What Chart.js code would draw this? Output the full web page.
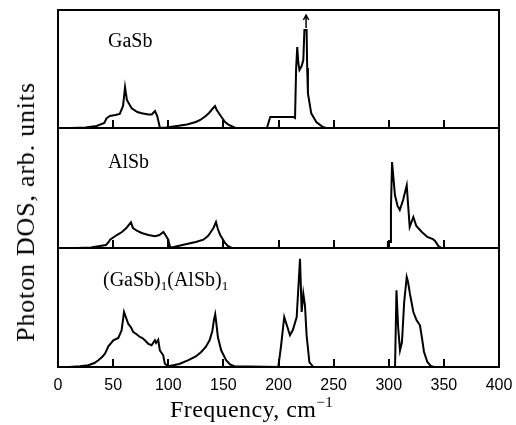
<!DOCTYPE html>
<html>
<head>
<meta charset="utf-8">
<script src="https://cdn.jsdelivr.net/npm/chart.js@4/dist/chart.umd.min.js"></script>
<style>
  html, body { margin:0; padding:0; background:#fff; }
  #wrap { position:relative; width:516px; height:425px; overflow:hidden; font-family:"Liberation Serif","Times New Roman",serif; color:#000; }
  canvas { position:absolute; left:0; }
  .lbl { position:absolute; font-size:20px; line-height:20px; white-space:nowrap; }
  .lbl sub { font-size:13px; vertical-align:-4px; line-height:0; }
  #ytitle { position:absolute; left:26px; top:212px; font-size:26px; line-height:26px; letter-spacing:0.8px; white-space:nowrap; transform:translate(-50%,-50%) rotate(-90deg); }
  #xtitle { position:absolute; left:170px; top:397px; font-size:24px; line-height:24px; letter-spacing:0.4px; white-space:nowrap; }
  #xtitle sup { font-size:15px; vertical-align:10px; line-height:0; }
</style>
</head>
<body>
<div id="wrap">
  <canvas id="c1" width="516" height="130" style="top:0"></canvas>
  <canvas id="c2" width="516" height="124" style="top:126px"></canvas>
  <canvas id="c3" width="516" height="179" style="top:246px"></canvas>
  <div class="lbl" style="left:108px;top:30px">GaSb</div>
  <div class="lbl" style="left:108px;top:151px">AlSb</div>
  <div class="lbl" style="left:103px;top:269px">(GaSb)<sub>1</sub>(AlSb)<sub>1</sub></div>
  <div id="ytitle">Photon DOS, arb. units</div>
  <div id="xtitle">Frequency, cm<sup>&minus;1</sup></div>
</div>
<script>
// x-axis settings (cm^-1)
const xMin = 0, xMax = 400, xStep = 50;
const tickValues = [50, 100, 150, 200, 250, 300, 350];

// GaSb phonon DOS (frequency, relative height)
const gasbFreq = [0,12,25,35,42,44,47,52,56,59,60.8,62.5,66.8,72,76,82,85,88,90,92.5,98,108,117,125,129,134,137,140,142.4,144,147,151.5,155,160.5,189.5,192.5,213.4,215,216,217,218,219,221,222.5,223.5,225.5,226,226.7,229.7,234.3,240.3,243,400];
const gasbDos  = [0,0,0.5,2,5,9.7,12,13,14,22,40.7,28,19.7,16,14.7,13.5,13.5,17,12,0,0.5,2,3.5,6,8,12,15,19,22,18,13,6,3,0.3,0,11,11,10,60,81,65,58,62,68,98,98,60,34.7,14.7,6,1,0,0];
// arrow marking the off-scale GaSb peak
const arrowFreq = [225,225,null,222.6,225,227.4];
const arrowDos  = [100,113,null,108,113,108];

// AlSb phonon DOS
const alsbFreq = [0,17,30,43.5,46,47.2,53,58,62,66.2,68,72,75.9,82,88,92,95.6,98,100,101.7,105,116.8,125,131.9,136,138,141,143.3,145,147,151.5,154,157.5,299,299.2,301.5,302,303,305.6,308,310,313,316.3,319,322.3,325,330,335,340,342,345,348,400];
const alsbDos  = [0,0,0.5,3,6,8.3,12.7,16,20,25.7,20,17,15,13,11.7,13,16,12,8.3,0.5,1,4,6,8.3,12,15,20,26,19,13.3,5,2,0,0,6,6,40,86,53,42,38,48,62.7,21,31,22,16,11,9,7,2,0,0];

// (GaSb)1(AlSb)1 superlattice phonon DOS
const slFreq = [0,10,20,27.5,33,36.6,40,42.6,45.7,50.2,54.7,57.7,59.9,61.5,63.8,66,68.3,71,74.3,76.5,78.8,82,84.9,87.9,89,90.9,92.4,94,95.4,96.9,100,110,117.8,125,129.9,134,137.5,140,141.4,142.6,143.5,145,148,152.5,156,160,199.8,202.2,205.2,207.5,210.4,213,216.5,219.5,221,222.5,224,225.5,228,231.6,305.7,307,308.5,310.2,312,314,316.3,317.5,319.2,322.3,325.3,328.3,330,332,335,338,341,400];
const slDos  = [0,0,0.7,1.7,4,6.7,10,13.3,20.7,26.7,29,36.7,55,50,43,40,35,33,30,29,26.7,23,21.7,26.7,24,27.3,16.7,14,11.7,3.3,0.7,3,6.7,10.5,15,20,26.7,36,46.7,52.7,45,30,16.7,6.7,2.5,0.7,0,20,50,42,31.7,37,50,108.3,55,73.3,61.7,31.7,5,0,0,76.7,40,16.7,25,65,90,85,73.3,55,46.7,41.7,30,15,5,1,0,0];

const pts = (xs, ys) => xs.map((x, i) => (x === null ? {x: NaN, y: null} : {x, y: ys[i]}));

const framePlugin = {
  id: 'frame',
  afterDatasetsDraw(chart) {
    const {ctx, chartArea: a, scales} = chart;
    ctx.save();
    ctx.strokeStyle = '#000';
    ctx.lineWidth = 2;
    ctx.beginPath();
    tickValues.forEach(v => {
      const px = Math.round(scales.x.getPixelForValue(v));
      ctx.moveTo(px, a.bottom);
      ctx.lineTo(px, a.bottom - 8);
    });
    ctx.stroke();
    ctx.strokeRect(a.left, a.top, a.right - a.left, a.bottom - a.top);
    ctx.restore();
  }
};

function makeChart(id, datasets, yMax, pad, showX) {
  return new Chart(document.getElementById(id), {
    type: 'line',
    data: { datasets },
    options: {
      responsive: false,
      animation: false,
      devicePixelRatio: 1,
      layout: { padding: pad },
      plugins: { legend: { display: false }, tooltip: { enabled: false } },
      elements: { point: { radius: 0 }, line: { tension: 0, borderCapStyle: 'butt', borderJoinStyle: 'miter' } },
      scales: {
        x: {
          type: 'linear', min: xMin, max: xMax,
          display: showX,
          grid: { display: false, drawTicks: false },
          border: { display: false },
          ticks: { stepSize: xStep, padding: 9, color: '#000', font: { family: '"Liberation Sans", Arial, sans-serif', size: 16 }, maxRotation: 0 },
          afterFit: (s) => { if (showX) { s.height = 58; s.paddingLeft = 0; s.paddingRight = 0; } }
        },
        y: { type: 'linear', min: 0, max: yMax, display: false }
      }
    },
    plugins: [framePlugin]
  });
}

const lineStyle = { borderColor: '#000', borderWidth: 2, fill: false, spanGaps: false };

makeChart('c1', [
  Object.assign({ data: pts(gasbFreq, gasbDos) }, lineStyle),
  Object.assign({}, lineStyle, { data: pts(arrowFreq, arrowDos), borderWidth: 1.5 })
], 118, { top: 10, left: 58, right: 17, bottom: 2 }, false);

makeChart('c2', [
  Object.assign({ data: pts(alsbFreq, alsbDos) }, lineStyle)
], 120, { top: 2, left: 58, right: 17, bottom: 2 }, false);

makeChart('c3', [
  Object.assign({ data: pts(slFreq, slDos) }, lineStyle)
], 119, { top: 2, left: 58, right: 17, bottom: 0 }, true);
</script>
</body>
</html>
